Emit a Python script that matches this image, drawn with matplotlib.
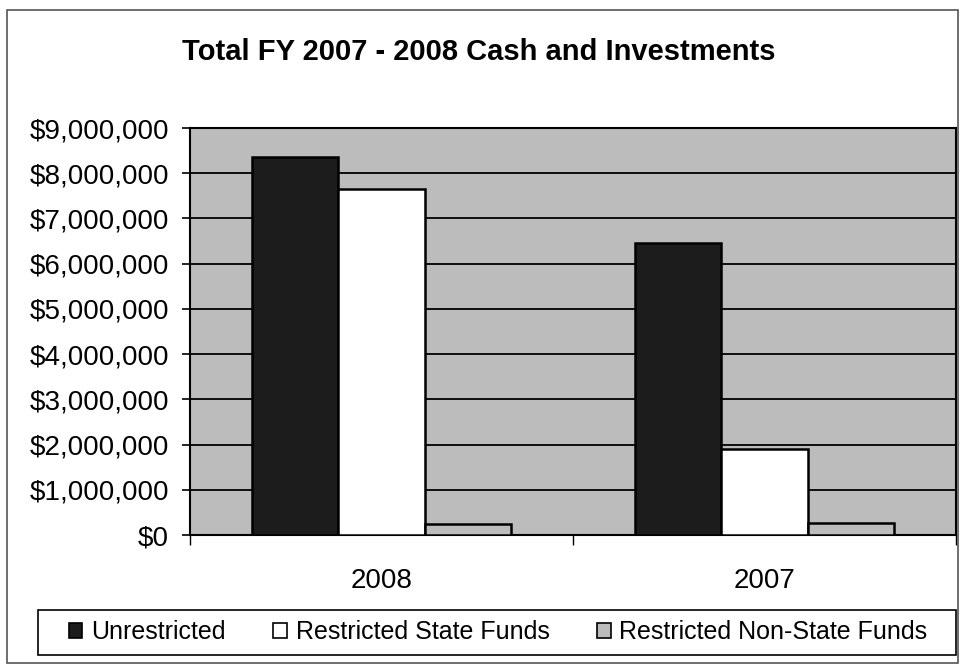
import numpy as np
import matplotlib.pyplot as plt
from matplotlib.patches import Rectangle
from matplotlib.ticker import FuncFormatter, FixedLocator

# --- data ---
years = ['2008', '2007']
unrestricted = [8350000, 6450000]
restricted_state = [7650000, 1900000]
restricted_non_state = [250000, 270000]
series_names = ['Unrestricted', 'Restricted State Funds', 'Restricted Non-State Funds']
y_ticks = np.arange(0, 9000001, 1000000)

plot_gray = '#bcbcbc'
bar_colors = ['#1c1c1c', 'white', plot_gray]

plt.rcParams['font.family'] = ['Liberation Sans', 'DejaVu Sans']

W, H = 963, 665
fig = plt.figure(figsize=(W / 100, H / 100), dpi=100)

# outer chart border
fig.patches.append(Rectangle((7 / W, 1 - 663 / H), (958 - 7) / W, (663 - 10) / H,
                             transform=fig.transFigure, fill=False,
                             edgecolor='#555555', linewidth=1.2))

x0, x1, ytop, ybot = 190, 956, 128, 535
ax = fig.add_axes([x0 / W, 1 - ybot / H, (x1 - x0) / W, (ybot - ytop) / H])
ax.set_facecolor(plot_gray)

x = np.arange(len(years))
bw = 0.225
for i, vals in enumerate([unrestricted, restricted_state, restricted_non_state]):
    ax.bar(x + (i - 1) * bw, vals, width=bw, color=bar_colors[i],
           edgecolor='black', linewidth=1.8, label=series_names[i], zorder=3)

ax.set_xlim(-0.5, 1.5)
ax.set_ylim(0, 9000000)

ax.set_yticks(y_ticks)
ax.yaxis.set_major_formatter(FuncFormatter(lambda v, p: f'${v:,.0f}'))
ax.grid(axis='y', color='black', linewidth=1.3, zorder=1)
ax.set_axisbelow(True)
ax.tick_params(axis='y', length=6, width=1.2, pad=9, labelsize=20, direction='out')

ax.set_xticks(x)
ax.set_xticklabels(years)
ax.xaxis.set_minor_locator(FixedLocator([-0.5, 0.5, 1.5]))
ax.tick_params(axis='x', which='major', length=0, pad=24, labelsize=20)
ax.tick_params(axis='x', which='minor', length=7, width=1.0)

for side in ['left', 'right', 'top', 'bottom']:
    ax.spines[side].set_color('black')
    ax.spines[side].set_linewidth(1.5)

fig.text(479 / W, 1 - 52 / H, 'Total FY 2007 - 2008 Cash and Investments',
         ha='center', va='center', fontsize=21, fontweight='bold')

# legend frame drawn separately so the entries keep their own spacing
fig.patches.append(Rectangle((38 / W, 1 - 655 / H), (956 - 38) / W, 45 / H,
                             transform=fig.transFigure, fill=False,
                             edgecolor='black', linewidth=1.2))
leg = fig.legend(loc='center', bbox_to_anchor=(498 / W, 1 - 632 / H),
                 ncol=3, fontsize=18, frameon=False,
                 handlelength=0.55, handleheight=0.55, handletextpad=0.35,
                 columnspacing=1.9, borderaxespad=0, borderpad=0)
for h in leg.legend_handles:
    h.set_linewidth(1.2)

fig.savefig('out.png', dpi=100)
